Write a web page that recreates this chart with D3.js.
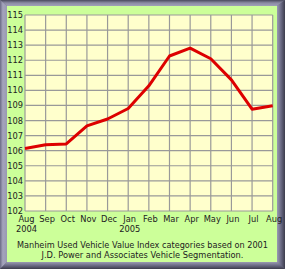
<!DOCTYPE html>
<html>
<head>
<meta charset="utf-8">
<script src="https://cdn.jsdelivr.net/npm/d3@7"></script>
<style>
  body { margin: 0; background: #fff; }
  svg { display: block; }
  text { font-family: "DejaVu Sans", Verdana, sans-serif; fill: #222; }
</style>
</head>
<body>
<svg id="chart" width="285" height="269"></svg>
<script>
(function () {
  // month labels along the bottom (second line = year)
  const months = ["Aug", "Sep", "Oct", "Nov", "Dec", "Jan", "Feb", "Mar", "Apr", "May", "Jun", "Jul", "Aug"];
  const years = ["2004", "", "", "", "", "2005", "", "", "", "", "", "", ""];
  const indexValues = [106.15, 106.4, 106.45, 107.65, 108.1, 108.8, 110.3, 112.28, 112.8, 112.1, 110.7, 108.75, 108.98];
  const yTicks = [102, 103, 104, 105, 106, 107, 108, 109, 110, 111, 112, 113, 114, 115];
  const caption = ["Manheim Used Vehicle Value Index categories based on 2001",
                   "J.D. Power and Associates Vehicle Segmentation."];

  const W = 285, H = 269;
  const svg = d3.select("#chart");
  const defs = svg.append("defs");

  function grad(id, x2, y2, stops) {
    const g = defs.append("linearGradient").attr("id", id)
      .attr("x1", 0).attr("y1", 0).attr("x2", x2).attr("y2", y2);
    stops.forEach(s => g.append("stop").attr("offset", s[0]).attr("stop-color", s[1]));
  }
  grad("gl", 1, 0, [[0, "#6a6a84"], [0.4, "#a4a4bc"], [1, "#9a9ab2"]]);
  grad("gt", 0, 1, [[0, "#4a4a5e"], [0.5, "#8c8ca4"], [1, "#a0a0b8"]]);
  grad("gr", 1, 0, [[0, "#9a9ab2"], [0.5, "#6a6a84"], [1, "#3c3c4c"]]);
  grad("gb", 0, 1, [[0, "#9a9ab2"], [0.5, "#6a6a84"], [1, "#3c3c4c"]]);

  // bevelled frame
  const bl = 7, bt = 6, br = 8, bb = 7;
  svg.append("rect").attr("width", W).attr("height", H).attr("fill", "#6a6a84");
  svg.append("polygon").attr("points", `0,0 ${W},0 ${W - br},${bt} ${bl},${bt}`).attr("fill", "url(#gt)");
  svg.append("polygon").attr("points", `0,0 ${bl},${bt} ${bl},${H - bb} 0,${H}`).attr("fill", "url(#gl)");
  svg.append("polygon").attr("points", `${W},0 ${W},${H} ${W - br},${H - bb} ${W - br},${bt}`).attr("fill", "url(#gr)");
  svg.append("polygon").attr("points", `0,${H} ${bl},${H - bb} ${W - br},${H - bb} ${W},${H}`).attr("fill", "url(#gb)");
  svg.append("rect").attr("x", bl).attr("y", bt).attr("width", W - bl - br).attr("height", H - bt - bb)
    .attr("fill", "#ccff99");

  const plot = { left: 25, top: 15, right: 272.7, bottom: 211 };

  const x = d3.scaleLinear().domain([0, months.length - 1]).range([plot.left, plot.right]);
  const y = d3.scaleLinear().domain([102, 115]).range([plot.bottom, plot.top]);

  svg.append("rect")
    .attr("x", plot.left).attr("y", plot.top)
    .attr("width", plot.right - plot.left).attr("height", plot.bottom - plot.top)
    .attr("fill", "#ffffcc");

  // grid
  const grid = svg.append("g").attr("stroke", "#999999").attr("stroke-width", 1.2).attr("fill", "none");
  grid.selectAll("line.v").data(d3.range(months.length)).join("line").attr("class", "v")
    .attr("x1", d => x(d)).attr("x2", d => x(d))
    .attr("y1", plot.top).attr("y2", plot.bottom);
  grid.selectAll("line.h").data(yTicks).join("line").attr("class", "h")
    .attr("y1", d => y(d)).attr("y2", d => y(d))
    .attr("x1", plot.left).attr("x2", plot.right);

  // y labels
  svg.append("g").selectAll("text").data(yTicks).join("text")
    .attr("x", 23).attr("y", d => y(d) + 3)
    .attr("text-anchor", "end").attr("font-size", 8.3)
    .text(d => d);

  // x labels
  const xl = svg.append("g").attr("font-size", 8.3);
  xl.selectAll("text.m").data(months).join("text").attr("class", "m")
    .attr("x", (d, i) => x(i) + 1.5).attr("y", 221.5)
    .attr("text-anchor", "middle").text(d => d);
  xl.selectAll("text.y").data(years).join("text").attr("class", "y")
    .attr("x", (d, i) => x(i) + 1.5).attr("y", 231.5)
    .attr("text-anchor", "middle").text(d => d);

  // line
  const line = d3.line().x((d, i) => x(i)).y(d => y(d));
  svg.append("path").datum(indexValues)
    .attr("d", line)
    .attr("fill", "none").attr("stroke", "#dd0000")
    .attr("stroke-width", 3).attr("stroke-linejoin", "round");

  // caption
  const capWidths = [251, 202];
  svg.append("g").attr("font-size", 8.3).selectAll("text").data(caption).join("text")
    .attr("x", 142.5).attr("y", (d, i) => 248 + i * 10.3)
    .attr("text-anchor", "middle")
    .attr("textLength", (d, i) => capWidths[i]).attr("lengthAdjust", "spacingAndGlyphs")
    .text(d => d);
})();
</script>
</body>
</html>
